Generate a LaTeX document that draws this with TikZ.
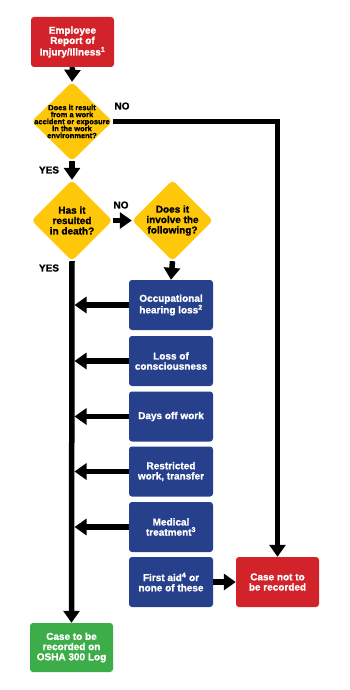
\documentclass[tikz,border=0pt]{standalone}
\usepackage{fontspec}
\setmainfont{Liberation Sans}[BoldFeatures={FakeBold=1.2}]
\usetikzlibrary{arrows.meta,shapes.geometric}
\definecolor{oshared}{HTML}{D2232A}
\definecolor{oshayellow}{HTML}{FFC70A}
\definecolor{oshablue}{HTML}{26408C}
\definecolor{oshagreen}{HTML}{3DAD49}
\begin{document}
\begin{tikzpicture}[x=1pt,y=-1pt,
  box/.style={rounded corners=3pt, minimum width=83pt, minimum height=50pt, inner sep=0pt, align=center, text=white, font=\bfseries\fontsize{10}{10.2}\selectfont},
  redbox/.style={box, fill=oshared},
  bluebox/.style={box, fill=oshablue, minimum width=84pt},
  greenbox/.style={box, fill=oshagreen, minimum height=49pt},
  dia/.style={diamond, aspect=1, fill=oshayellow, rounded corners=4pt, inner sep=0pt, minimum width=81pt, minimum height=81pt},
  dtext/.style={align=center, text=black, inner sep=0pt, font=\bfseries\fontsize{10}{10.4}\selectfont},
  dtextsmall/.style={dtext, font=\bfseries\fontsize{7.5}{7}\selectfont},
  conn/.style={line width=5.5pt, -{Triangle[width=16pt,length=12pt]}},
  lbl/.style={inner sep=0pt, font=\bfseries\fontsize{10}{10}\selectfont}
]
\useasboundingbox (0,0) rectangle (350,690);
\fill[white] (0,0) rectangle (350,690);

\node[redbox] (rep) at (72.5,42) {Employee\\Report of\\Injury/Illness\textsuperscript{1}};
\node[dia, minimum height=79pt] (d1) at (72,121.5) {};
\node[dtextsmall] (d1t) at (d1.center) {Does it result\\from a work\\accident or exposure\\in the work\\environment?};
\node[dia] (d2) at (72,220.5) {};
\node[dtext] (d2t) at (d2.center) {Has it\\resulted\\in death?};
\node[dia] (d3) at (172.5,220.5) {};
\node[dtext] (d3t) at (d3.center) {Does it\\involve the\\following?};

\node[bluebox] (b1) at (171,305) {Occupational\\hearing loss\textsuperscript{2}};
\node[bluebox] (b2) at (171,361) {Loss of\\consciousness};
\node[bluebox] (b3) at (171,416.5) {Days off work};
\node[bluebox] (b4) at (171,471.5) {Restricted\\work, transfer};
\node[bluebox] (b5) at (171,527) {Medical\\treatment\textsuperscript{3}};
\node[bluebox] (b6) at (171,582) {First aid\textsuperscript{4} or\\none of these};

\node[redbox] (nr) at (277.5,582) {Case not to\\be recorded};
\node[greenbox] (gr) at (71.5,647.5) {Case to be\\recorded on\\OSHA 300 Log};

\node[lbl] (no1) at (122,106) {NO};
\node[lbl] (yes1) at (49,170) {YES};
\node[lbl] (no2) at (121,205) {NO};
\node[lbl] (yes2) at (49,268) {YES};

\draw[conn] (rep.south) -- (d1.north);
\draw[conn] (d1.south) -- (d2.north);
\draw[conn] (d1.east) -| (nr.north);
\draw[conn] (d2.east) -- (d3.west);
\draw[conn] (d3.south) -- (b1.north);
\draw[conn] (d2.south) -- (gr.north);
\foreach \b in {b1,b2,b3,b4,b5}{
  \draw[conn, shorten >=2.5pt] (\b.west) -- (\b.west -| d2.south);
}
\draw[conn] (b6.east) -- (nr.west);
\end{tikzpicture}
\end{document}
